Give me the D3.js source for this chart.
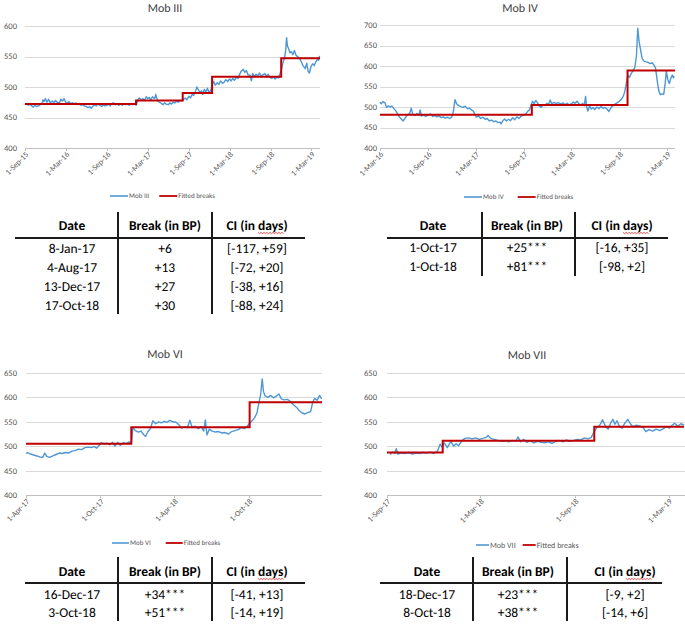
<!DOCTYPE html>
<html>
<head>
<meta charset="utf-8">
<script src="https://cdn.jsdelivr.net/npm/d3@7"></script>
<style>
  html, body { margin: 0; padding: 0; background: #fff; }
  svg { display: block; }
  text { text-rendering: geometricPrecision; }
</style>
</head>
<body>
<svg id="chart" width="685" height="624"></svg>
<script>
// ---------------- DATA ----------------
// Mob III
const mob3Dates = [
"2015-09-01","2015-09-08","2015-09-15","2015-09-22",
"2015-10-01","2015-10-08","2015-10-15","2015-10-22",
"2015-11-01","2015-11-08","2015-11-15","2015-11-20","2015-11-25",
"2015-12-01","2015-12-08","2015-12-15","2015-12-22",
"2016-01-01","2016-01-08","2016-01-15","2016-01-22",
"2016-02-01","2016-02-08","2016-02-15","2016-02-22",
"2016-03-01","2016-03-08","2016-03-15","2016-03-22",
"2016-04-01","2016-04-08","2016-04-15","2016-04-22",
"2016-05-01","2016-05-08","2016-05-15","2016-05-22",
"2016-06-01","2016-06-08","2016-06-15","2016-06-22",
"2016-07-01","2016-07-08","2016-07-15","2016-07-22",
"2016-08-01","2016-08-08","2016-08-15","2016-08-22",
"2016-09-01","2016-09-08","2016-09-15","2016-09-22",
"2016-10-01","2016-10-08","2016-10-15","2016-10-22",
"2016-11-01","2016-11-08","2016-11-15","2016-11-22",
"2016-12-01","2016-12-08","2016-12-15","2016-12-22",
"2017-01-01","2017-01-08","2017-01-15","2017-01-22",
"2017-02-01","2017-02-08","2017-02-15","2017-02-22",
"2017-03-01","2017-03-08","2017-03-15","2017-03-22",
"2017-04-01","2017-04-06","2017-04-10","2017-04-15","2017-04-22",
"2017-05-01","2017-05-08","2017-05-15","2017-05-22",
"2017-06-01","2017-06-08","2017-06-15","2017-06-22",
"2017-07-01","2017-07-08","2017-07-15","2017-07-22",
"2017-08-01","2017-08-08","2017-08-15","2017-08-22",
"2017-09-01","2017-09-08","2017-09-15","2017-09-22",
"2017-10-01","2017-10-06","2017-10-12","2017-10-20","2017-10-27",
"2017-11-01","2017-11-08","2017-11-15","2017-11-22",
"2017-12-01","2017-12-08","2017-12-15","2017-12-20","2017-12-27",
"2018-01-05","2018-01-12","2018-01-20","2018-01-28",
"2018-02-05","2018-02-12","2018-02-20",
"2018-03-01","2018-03-08","2018-03-15","2018-03-22",
"2018-04-01","2018-04-08","2018-04-15","2018-04-22",
"2018-05-01","2018-05-08","2018-05-15","2018-05-22",
"2018-06-01","2018-06-06","2018-06-12","2018-06-20","2018-06-27",
"2018-07-05","2018-07-12","2018-07-20","2018-07-27",
"2018-08-05","2018-08-12","2018-08-20","2018-08-27",
"2018-09-05","2018-09-12","2018-09-20","2018-09-27",
"2018-10-05","2018-10-12","2018-10-18","2018-10-25",
"2018-11-01","2018-11-06","2018-11-10","2018-11-14","2018-11-20","2018-11-25",
"2018-12-01","2018-12-08","2018-12-15","2018-12-22",
"2019-01-01","2019-01-08","2019-01-15","2019-01-22",
"2019-02-01","2019-02-08","2019-02-14","2019-02-20","2019-02-27",
"2019-03-06","2019-03-13","2019-03-20","2019-03-27",
"2019-04-02","2019-04-06"];
const mob3Values = [
471,473,470,472,
469,467,470,468,
469,471,472,479,476,
481,475,480,474,
477,474,478,475,
474,480,477,481,
475,474,476,473,
474,472,474,471,
472,470,471,469,
468,466,468,465,
469,471,469,472,
470,468,471,469,
470,472,469,473,
474,471,473,470,
472,470,473,471,
472,470,472,471,
472,470,478,482,
479,481,478,484,
481,483,479,484,
481,488,482,477,475,
473,471,474,472,
471,474,472,475,
474,477,475,478,
477,480,482,479,
485,482,488,486,
494,500,496,491,494,
488,496,492,498,
490,496,505,509,503,
507,504,510,506,
508,512,509,
513,510,514,511,
516,514,521,526,
529,524,527,520,
519,510,522,517,521,
518,523,517,520,
522,518,521,516,
514,517,513,516,
515,522,528,540,
548,560,581,567,562,556,
558,553,560,552,
549,546,541,535,
530,539,526,523,534,
538,535,541,545,
544,551];
const mob3BreakDates = ["2017-01-08","2017-08-04","2017-12-13","2018-10-17"];
const mob3Levels = [472,478,490,517,547];
const mob3Ticks = ["2015-09-01","2016-03-01","2016-09-01","2017-03-01","2017-09-01","2018-03-01","2018-09-01","2019-03-01"];

// Mob IV
const mob4Dates = [
"2016-03-01","2016-03-06","2016-03-12","2016-03-20","2016-03-26",
"2016-04-02","2016-04-09","2016-04-16","2016-04-23",
"2016-05-01","2016-05-08","2016-05-15","2016-05-22","2016-05-28",
"2016-06-04","2016-06-10","2016-06-16","2016-06-22","2016-06-28",
"2016-07-04","2016-07-12","2016-07-20","2016-07-27",
"2016-08-01","2016-08-06","2016-08-14","2016-08-22",
"2016-09-01","2016-09-10","2016-09-18","2016-09-26",
"2016-10-04","2016-10-12","2016-10-20","2016-10-28",
"2016-11-05","2016-11-14","2016-11-22","2016-11-30",
"2016-12-06","2016-12-12","2016-12-18","2016-12-25",
"2017-01-03","2017-01-12","2017-01-20","2017-01-28",
"2017-02-05","2017-02-13","2017-02-20","2017-02-26",
"2017-03-04","2017-03-12","2017-03-20","2017-03-28",
"2017-04-06","2017-04-14","2017-04-22",
"2017-05-01","2017-05-09","2017-05-17","2017-05-25",
"2017-06-02","2017-06-06","2017-06-12","2017-06-19","2017-06-26",
"2017-07-04","2017-07-12","2017-07-20","2017-07-28",
"2017-08-05","2017-08-13","2017-08-22",
"2017-09-01","2017-09-09","2017-09-16","2017-09-22","2017-09-28",
"2017-10-04","2017-10-10","2017-10-16","2017-10-23","2017-10-30",
"2017-11-06","2017-11-13","2017-11-20","2017-11-27",
"2017-12-04","2017-12-10","2017-12-16","2017-12-24",
"2018-01-02","2018-01-10","2018-01-18","2018-01-27",
"2018-02-05","2018-02-13","2018-02-21",
"2018-03-01","2018-03-08","2018-03-15","2018-03-22","2018-03-30",
"2018-04-06","2018-04-13","2018-04-19","2018-04-24","2018-04-28",
"2018-05-03","2018-05-09","2018-05-15","2018-05-22","2018-05-29",
"2018-06-06","2018-06-14","2018-06-22","2018-06-30",
"2018-07-08","2018-07-16","2018-07-22","2018-07-29",
"2018-08-06","2018-08-14","2018-08-22","2018-08-30",
"2018-09-06","2018-09-13","2018-09-20","2018-09-27",
"2018-10-02","2018-10-08","2018-10-15","2018-10-22","2018-10-29",
"2018-11-04","2018-11-09","2018-11-14","2018-11-20","2018-11-26",
"2018-12-03","2018-12-10","2018-12-18","2018-12-26",
"2019-01-03","2019-01-10","2019-01-16","2019-01-22","2019-01-28",
"2019-02-03","2019-02-10","2019-02-16","2019-02-22","2019-02-26",
"2019-03-03","2019-03-09","2019-03-15","2019-03-21","2019-03-25","2019-03-28"];
const mob4Values = [
512,508,513,510,499,
503,500,502,496,
490,482,475,470,466,
472,478,482,484,497,
482,479,484,480,
493,478,481,477,
480,483,477,479,
476,478,474,476,
473,475,472,476,
490,518,508,504,
501,499,502,496,
497,493,490,482,
475,478,472,475,
470,472,466,
468,464,466,462,
463,459,466,471,466,
470,467,474,469,
476,472,478,
481,484,490,493,505,
514,508,516,510,502,
499,506,503,509,
507,517,508,511,
508,511,507,510,
506,509,505,
508,512,509,514,508,
505,509,503,526,500,
490,503,495,499,494,
500,496,501,497,
499,494,489,498,
503,507,510,514,
518,524,536,560,
578,572,582,588,597,
625,692,660,638,618,
612,610,609,606,
608,602,595,565,540,
530,532,531,560,588,
568,557,570,578,571,575];
const mob4BreakDates = ["2017-10-01","2018-10-01"];
const mob4Levels = [481,505,589];
const mob4Ticks = ["2016-03-01","2016-09-01","2017-03-01","2017-09-01","2018-03-01","2018-09-01","2019-03-01"];

// Mob VI
const mob6Dates = [
"2017-04-01","2017-04-05","2017-04-12","2017-04-20","2017-04-28",
"2017-05-05","2017-05-12","2017-05-17","2017-05-22","2017-05-29",
"2017-06-06","2017-06-14","2017-06-22","2017-06-29",
"2017-07-07","2017-07-15","2017-07-23","2017-07-31",
"2017-08-08","2017-08-16","2017-08-24",
"2017-09-01","2017-09-09","2017-09-16","2017-09-22","2017-09-28",
"2017-10-03","2017-10-10","2017-10-17","2017-10-24","2017-10-31",
"2017-11-06","2017-11-12","2017-11-19","2017-11-26",
"2017-12-03","2017-12-10","2017-12-16","2017-12-20","2017-12-26",
"2018-01-02","2018-01-09","2018-01-15","2018-01-20","2018-01-26",
"2018-02-01","2018-02-07","2018-02-14","2018-02-21","2018-02-28",
"2018-03-07","2018-03-14","2018-03-21","2018-03-28",
"2018-04-05","2018-04-12","2018-04-19","2018-04-26",
"2018-05-03","2018-05-09","2018-05-15","2018-05-22","2018-05-30",
"2018-06-06","2018-06-12","2018-06-16","2018-06-20","2018-06-26",
"2018-07-03","2018-07-11","2018-07-19","2018-07-27",
"2018-08-04","2018-08-12","2018-08-20","2018-08-28",
"2018-09-05","2018-09-12","2018-09-20","2018-09-27",
"2018-10-03","2018-10-09","2018-10-15","2018-10-21","2018-10-26","2018-10-30",
"2018-11-03","2018-11-06","2018-11-10","2018-11-17","2018-11-24",
"2018-12-01","2018-12-08","2018-12-14","2018-12-20","2018-12-27",
"2019-01-04","2019-01-12","2019-01-19","2019-01-26",
"2019-02-02","2019-02-09","2019-02-16","2019-02-23",
"2019-03-02","2019-03-07","2019-03-12","2019-03-18","2019-03-24","2019-03-29"];
const mob6Values = [
485,487,484,482,480,
478,477,486,479,477,
480,483,486,485,
487,486,490,491,
494,493,497,
498,497,499,496,502,
507,505,506,503,508,
500,508,502,507,
505,509,507,538,532,
529,531,524,520,530,
536,552,546,550,548,
551,549,553,550,
549,544,537,540,
538,553,538,541,536,
540,531,554,523,535,
531,529,530,527,
528,525,530,532,
534,538,536,541,
547,552,558,568,590,605,
638,612,603,600,604,
599,603,607,597,595,
596,591,585,580,
573,568,566,569,
571,590,598,594,604,597];
const mob6BreakDates = ["2017-12-16","2018-10-03"];
const mob6Levels = [505,539,590];
const mob6Ticks = ["2017-04-01","2017-10-01","2018-04-01","2018-10-01"];

// Mob VII
const mob7Dates = [
"2017-09-07","2017-09-12","2017-09-16","2017-09-19","2017-09-22","2017-09-29",
"2017-10-06","2017-10-13","2017-10-20","2017-10-27",
"2017-11-03","2017-11-10","2017-11-17","2017-11-24",
"2017-12-01","2017-12-08","2017-12-13","2017-12-17","2017-12-21","2017-12-27",
"2018-01-03","2018-01-08","2018-01-13","2018-01-18","2018-01-24","2018-01-30",
"2018-02-06","2018-02-13","2018-02-20","2018-02-27",
"2018-03-06","2018-03-12","2018-03-16","2018-03-21","2018-03-28",
"2018-04-04","2018-04-11","2018-04-18","2018-04-25",
"2018-05-02","2018-05-09","2018-05-13","2018-05-18","2018-05-24","2018-05-30",
"2018-06-06","2018-06-13","2018-06-20","2018-06-27",
"2018-07-04","2018-07-11","2018-07-18","2018-07-25",
"2018-08-01","2018-08-08","2018-08-15","2018-08-22","2018-08-29",
"2018-09-05","2018-09-12","2018-09-19","2018-09-26",
"2018-10-02","2018-10-08","2018-10-13","2018-10-18","2018-10-24","2018-10-30",
"2018-11-04","2018-11-09","2018-11-13","2018-11-17","2018-11-21","2018-11-26",
"2018-12-01","2018-12-06","2018-12-12","2018-12-17","2018-12-22","2018-12-29",
"2019-01-05","2019-01-11","2019-01-16","2019-01-22","2019-01-29",
"2019-02-05","2019-02-12","2019-02-19","2019-02-25",
"2019-03-03","2019-03-08","2019-03-13","2019-03-19","2019-03-25","2019-03-31"];
const mob7Values = [
483,488,485,495,484,486,
485,487,484,486,
485,487,486,488,
485,490,504,498,507,497,
510,500,505,501,511,516,
517,515,517,514,
516,518,522,516,514,
512,510,511,509,
512,510,519,509,514,508,
511,507,510,508,
507,509,506,510,
512,509,513,510,512,
514,513,517,515,
518,530,538,542,554,540,
535,548,555,545,552,540,
537,547,555,546,540,543,
541,538,530,534,531,
535,532,536,540,
537,543,547,541,546,543];
const mob7BreakDates = ["2017-12-18","2018-10-08"];
const mob7Levels = [487,511,540];
const mob7Ticks = ["2017-09-01","2018-03-01","2018-09-01","2019-03-01"];

// Tables
const tabHeaders = ["Date", "Break (in BP)", "CI (in days)"];
const tab3Dates = ["8-Jan-17","4-Aug-17","13-Dec-17","17-Oct-18"];
const tab3Breaks = ["+6","+13","+27","+30"];
const tab3CI = ["[-117, +59]","[-72, +20]","[-38, +16]","[-88, +24]"];
const tab4Dates = ["1-Oct-17","1-Oct-18"];
const tab4Breaks = ["+25***","+81***"];
const tab4CI = ["[-16, +35]","[-98, +2]"];
const tab6Dates = ["16-Dec-17","3-Oct-18"];
const tab6Breaks = ["+34***","+51***"];
const tab6CI = ["[-41, +13]","[-14, +19]"];
const tab7Dates = ["18-Dec-17","8-Oct-18"];
const tab7Breaks = ["+23***","+38***"];
const tab7CI = ["[-9, +2]","[-14, +6]"];

// ---------------- DRAWING ----------------
const parse = d3.timeParse("%Y-%m-%d");
const fmt = d3.timeFormat("%-d-%b-%y");
const FONT = "Carlito, Lato, 'Open Sans', sans-serif";
const BLUE = "#4f97d4";
const RED = "#c00000";
const TXT = "#595959";
const svg = d3.select("#chart");
svg.append("rect").attr("width", 685).attr("height", 624).attr("fill", "#fff");

function drawPanel(p) {
  const g = svg.append("g");
  const x = d3.scaleTime().domain([parse(p.start), parse(p.end)]).range([p.left, p.right]);
  const y = d3.scaleLinear().domain(p.yDomain).range([p.bottom, p.top]);
  const yTicks = d3.range(p.yDomain[0], p.yDomain[1] + 1, 50);

  g.selectAll("line.grid").data(yTicks.slice(1)).join("line").attr("class", "grid")
    .attr("x1", p.left).attr("x2", p.gridRight)
    .attr("y1", d => Math.round(y(d)) + 0.5).attr("y2", d => Math.round(y(d)) + 0.5)
    .attr("stroke", "#d9d9d9").attr("stroke-width", 1);
  g.append("line").attr("x1", p.left).attr("x2", p.gridRight)
    .attr("y1", p.bottom + 0.5).attr("y2", p.bottom + 0.5)
    .attr("stroke", "#bfbfbf").attr("stroke-width", 1);
  const ticks = p.ticks.map(parse);
  g.selectAll("line.tk").data(ticks).join("line").attr("class", "tk")
    .attr("x1", d => Math.round(x(d)) + 0.5).attr("x2", d => Math.round(x(d)) + 0.5)
    .attr("y1", p.bottom).attr("y2", p.bottom + 3)
    .attr("stroke", "#bfbfbf");

  g.selectAll("text.yl").data(yTicks).join("text").attr("class", "yl")
    .attr("x", p.yLabelX).attr("y", d => y(d))
    .attr("dy", "0.35em").attr("text-anchor", "end")
    .attr("font-family", FONT).attr("font-size", p.tickFont)
    .style("fill", TXT)
    .text(d => d);

  g.selectAll("text.xl").data(ticks).join("text").attr("class", "xl")
    .attr("transform", d => `translate(${x(d) + 2},${p.bottom + 5}) rotate(-45)`)
    .attr("text-anchor", "end").attr("dy", "0.35em")
    .attr("font-family", FONT).attr("font-size", p.tickFont - 0.5)
    .style("fill", TXT)
    .text(d => fmt(d));

  g.append("text").attr("x", p.titleX).attr("y", p.titleY)
    .attr("text-anchor", "middle").attr("font-family", FONT)
    .attr("font-size", 12).style("fill", "#404040").text(p.name);

  const pts = p.dates.map((d, i) => [parse(d), p.values[i]]);
  g.append("path").datum(pts)
    .attr("fill", "none").attr("stroke", BLUE).attr("stroke-width", 1.4)
    .attr("stroke-linejoin", "round")
    .attr("d", d3.line().defined(d => d[0] && d[1] != null).x(d => x(d[0])).y(d => y(d[1])));

  const stepPts = [[parse(p.start), p.levels[0]]];
  p.breaks.forEach((b, i) => stepPts.push([parse(b), p.levels[i + 1]]));
  stepPts.push([parse(p.end), p.levels[p.levels.length - 1]]);
  g.append("path").datum(stepPts)
    .attr("fill", "none").attr("stroke", RED).attr("stroke-width", 2)
    .attr("d", d3.line().curve(d3.curveStepAfter).x(d => x(d[0])).y(d => y(d[1])));

  const lg = g.append("g").attr("font-family", FONT).attr("font-size", p.legFont).style("fill", TXT);
  let lx = p.legX;
  const ll = p.legLine;
  lg.append("line").attr("x1", lx).attr("x2", lx + ll).attr("y1", p.legY).attr("y2", p.legY)
    .attr("stroke", BLUE).attr("stroke-width", 1.6);
  const t1 = lg.append("text").attr("x", lx + ll + 1).attr("y", p.legY).attr("dy", "0.35em").text(p.name);
  lx = lx + ll + 1 + t1.node().getComputedTextLength() + p.legGap;
  lg.append("line").attr("x1", lx).attr("x2", lx + ll).attr("y1", p.legY).attr("y2", p.legY)
    .attr("stroke", RED).attr("stroke-width", 1.8);
  lg.append("text").attr("x", lx + ll + 1).attr("y", p.legY).attr("dy", "0.35em").text("Fitted breaks");
}

function drawTable(t) {
  const g = svg.append("g").attr("font-family", FONT).style("fill", "#000");
  tabHeaders.forEach((h, i) => {
    const tx = g.append("text").attr("x", t.cols[i]).attr("y", t.headerY)
      .attr("dy", "0.35em").attr("text-anchor", "middle")
      .attr("font-size", t.font).attr("font-weight", "bold").text(h);
    if (i === 2) {
      const node = tx.node();
      const total = node.getComputedTextLength();
      const start = t.cols[i] - total / 2;
      const x0 = start + node.getSubStringLength(0, 7);
      const w = node.getSubStringLength(7, 4);
      const yy = t.headerY + t.font * 0.55;
      let dpath = `M${x0},${yy}`;
      for (let k = 0; k < w; k += 1.5) {
        dpath += ` L${x0 + k + 1.5},${yy + ((Math.round(k / 1.5) % 2 === 0) ? 1.2 : 0)}`;
      }
      g.append("path").attr("d", dpath).attr("fill", "none").attr("stroke", "#e02020").attr("stroke-width", 0.8);
    }
  });
  const cols = [t.dates, t.breaks, t.ci];
  cols.forEach((arr, ci) => {
    g.selectAll(null).data(arr).join("text")
      .attr("x", t.cols[ci]).attr("y", (d, ri) => t.rowY[ri])
      .attr("dy", "0.35em").attr("text-anchor", "middle")
      .attr("font-size", t.font).text(d => d);
  });
  g.append("line").attr("x1", t.hx[0]).attr("x2", t.hx[1])
    .attr("y1", t.hy).attr("y2", t.hy).attr("stroke", "#1a1a1a").attr("stroke-width", 2);
  t.vx.forEach(vx => {
    g.append("line").attr("x1", vx).attr("x2", vx)
      .attr("y1", t.vy[0]).attr("y2", t.vy[1]).attr("stroke", "#1a1a1a").attr("stroke-width", 2);
  });
}

drawPanel({name: "Mob III", dates: mob3Dates, values: mob3Values, breaks: mob3BreakDates, levels: mob3Levels, ticks: mob3Ticks,
  start: "2015-09-01", end: "2019-04-08", left: 25, right: 320, gridRight: 320, top: 26, bottom: 148, yDomain: [400, 600],
  yLabelX: 17, tickFont: 8.5, titleX: 165, titleY: 12, legX: 110, legY: 196, legLine: 18, legGap: 10, legFont: 7});
drawPanel({name: "Mob IV", dates: mob4Dates, values: mob4Values, breaks: mob4BreakDates, levels: mob4Levels, ticks: mob4Ticks,
  start: "2016-03-01", end: "2019-03-31", left: 380, right: 675, gridRight: 675, top: 25, bottom: 148, yDomain: [400, 700],
  yLabelX: 377, tickFont: 8.5, titleX: 520, titleY: 12, legX: 464, legY: 197, legLine: 18, legGap: 14, legFont: 7});
drawPanel({name: "Mob VI", dates: mob6Dates, values: mob6Values, breaks: mob6BreakDates, levels: mob6Levels, ticks: mob6Ticks,
  start: "2017-04-01", end: "2019-03-30", left: 26, right: 322, gridRight: 322, top: 373, bottom: 495, yDomain: [400, 650],
  yLabelX: 17, tickFont: 8.5, titleX: 165, titleY: 358, legX: 112, legY: 543, legLine: 17, legGap: 15, legFont: 7});
drawPanel({name: "Mob VII", dates: mob7Dates, values: mob7Values, breaks: mob7BreakDates, levels: mob7Levels, ticks: mob7Ticks,
  start: "2017-09-01", end: "2019-03-31", left: 387, right: 684, gridRight: 685, top: 373, bottom: 495, yDomain: [400, 650],
  yLabelX: 377, tickFont: 8.5, titleX: 527, titleY: 359, legX: 476, legY: 545, legLine: 13, legGap: 7, legFont: 8});

drawTable({dates: tab3Dates, breaks: tab3Breaks, ci: tab3CI, cols: [72, 165, 257], headerY: 225,
  rowY: [248, 267, 286, 305], hx: [15, 305], hy: 238, vx: [118, 212], vy: [212, 314], font: 13.5});
drawTable({dates: tab4Dates, breaks: tab4Breaks, ci: tab4CI, cols: [433, 527, 622], headerY: 225,
  rowY: [247, 266], hx: [387, 668], hy: 238, vx: [482, 575], vy: [212, 276], font: 13.5});
drawTable({dates: tab6Dates, breaks: tab6Breaks, ci: tab6CI, cols: [72, 165, 257], headerY: 571,
  rowY: [594, 612], hx: [25, 305], hy: 583, vx: [118, 212], vy: [557, 621], font: 13.5});
drawTable({dates: tab7Dates, breaks: tab7Breaks, ci: tab7CI, cols: [427, 518, 625], headerY: 571,
  rowY: [594, 612], hx: [380, 662], hy: 583, vx: [473, 567], vy: [557, 621], font: 13.5});
</script>
</body>
</html>
